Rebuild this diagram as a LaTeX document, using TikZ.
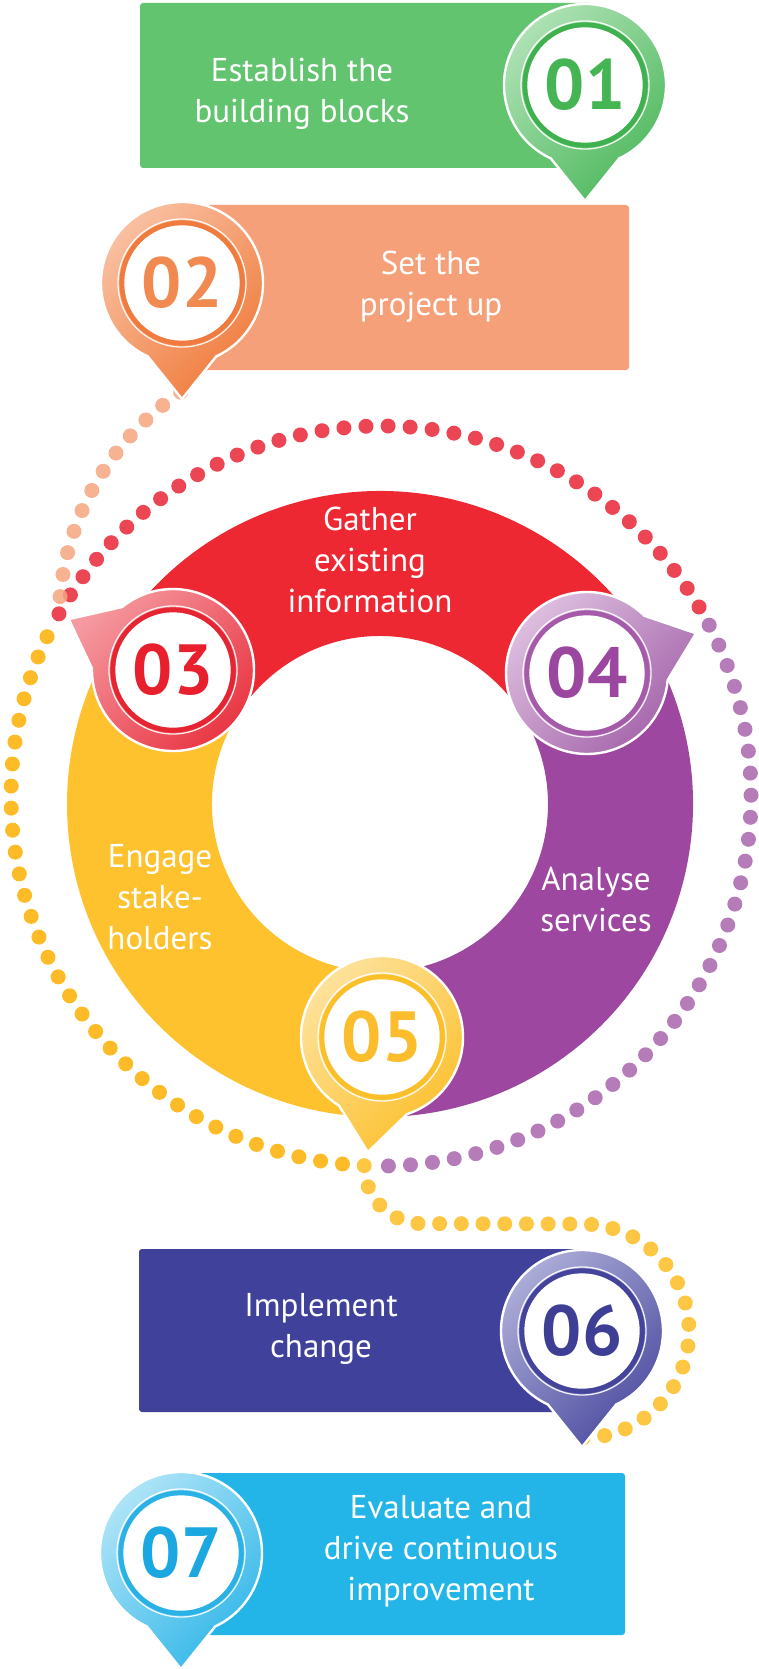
\documentclass[tikz,border=0pt]{standalone}
\usepackage{fontspec}
\setmainfont{PT Sans}
\usetikzlibrary{calc}

% card colours
\definecolor{cardgreen}{HTML}{62C46F}
\definecolor{cardorange}{HTML}{F5A078}
\definecolor{cardindigo}{HTML}{40419A}
\definecolor{cardblue}{HTML}{23B5E7}
% ring colours
\definecolor{ringred}{HTML}{EE2833}
\definecolor{ringyellow}{HTML}{FDC22E}
\definecolor{ringpurple}{HTML}{9D47A0}
% dotted trail colours
\definecolor{dotorange}{HTML}{F6A47E}
\definecolor{dotred}{HTML}{EC4654}
\definecolor{dotpurple}{HTML}{B67CBA}
\definecolor{dotyellowdeep}{HTML}{FCBB27}
\definecolor{dotyellow}{HTML}{FDC744}
% marker colours: light, body, ring, number
\definecolor{gLight}{HTML}{B2E3B8}\definecolor{gBody}{HTML}{4DB85C}\definecolor{gRing}{HTML}{3FB24F}\definecolor{gNum}{HTML}{45B553}
\definecolor{oLight}{HTML}{F9C3A6}\definecolor{oBody}{HTML}{F07A3A}\definecolor{oRing}{HTML}{EF7C3E}\definecolor{oNum}{HTML}{F08A50}
\definecolor{rLight}{HTML}{F59AA1}\definecolor{rBody}{HTML}{E8323F}\definecolor{rRing}{HTML}{E52531}\definecolor{rNum}{HTML}{E8202D}
\definecolor{pLight}{HTML}{DDBEDF}\definecolor{pBody}{HTML}{A261A8}\definecolor{pRing}{HTML}{A55BA9}\definecolor{pNum}{HTML}{9B479F}
\definecolor{yLight}{HTML}{FEE3A0}\definecolor{yBody}{HTML}{FBBF2A}\definecolor{yRing}{HTML}{FBBF2A}\definecolor{yNum}{HTML}{FBBD2B}
\definecolor{iLight}{HTML}{B0B0DA}\definecolor{iBody}{HTML}{4B4BA0}\definecolor{iRing}{HTML}{44449C}\definecolor{iNum}{HTML}{3E3E94}
\definecolor{bLight}{HTML}{B4E6F8}\definecolor{bBody}{HTML}{30B6E8}\definecolor{bRing}{HTML}{2AB2E7}\definecolor{bNum}{HTML}{1BA8E0}

% glossy white face of a marker
\pgfdeclareradialshading{markerface}{\pgfpoint{0bp}{0bp}}{%
  color(0bp)=(white); color(30bp)=(white); color(43bp)=(black!9);
  color(48bp)=(black!5); color(50bp)=(white)}

% #1 name, #2 centre, #3 pointing angle, #4 light, #5 body, #6 ring, #7 number colour, #8 number
\newcommand\pinmark[8]{%
  \coordinate (#1) at #2;
  \coordinate (#1-tip) at ($(#1)+(#3:116)$);
  \path[top color=#4, bottom color=#5, shading angle=45,
        draw=white, line width=2.4pt, line join=miter]
    ($(#1)+(#3+25:81)$) arc[start angle=#3+25, end angle=#3+335, radius=81]
    -- (#1-tip) -- cycle;
  \draw[white, line width=1.3pt, opacity=0.9] (#1) circle[radius=64];
  \fill[#6] (#1) circle[radius=62.6];
  \shade[shading=markerface] (#1) circle[radius=57];
  \draw[white, line width=1.4pt] (#1) circle[radius=57];
  \node[numtext, text=#7] (#1-num) at (#1) {#8};
}

\begin{document}
\begin{tikzpicture}[x=1pt, y=-1pt,
  lbl/.style={text=white, align=center, inner sep=0pt,
              font=\fontsize{33}{41}\selectfont},
  numtext/.style={inner sep=0pt, font=\fontsize{71}{71}\selectfont\bfseries},
  dotline/.style={line width=15pt, line cap=round, dash pattern=on 0pt off 22.1pt},
  card/.style={rounded corners=3pt}]

\useasboundingbox (0,0) rectangle (759,1669);

% ---------- step cards ----------
\fill[card, cardgreen]  (140,3)    rectangle (592,168);
\fill[card, cardorange] (195,205)  rectangle (629,370);
\fill[card, cardindigo] (139,1249) rectangle (590,1412);
\fill[card, cardblue]   (195,1473) rectangle (625,1635);

% ---------- cycle ring ----------
\coordinate (ring) at (380,804);
\fill[ringred] ($(ring)+(212:313)$) arc[start angle=212, end angle=328, radius=313]
  -- ($(ring)+(328:168)$) arc[start angle=328, end angle=212, radius=168] -- cycle;
\fill[ringyellow] ($(ring)+(90:313)$) arc[start angle=90, end angle=212, radius=313]
  -- ($(ring)+(212:168)$) arc[start angle=212, end angle=90, radius=168] -- cycle;
\fill[ringpurple] ($(ring)+(-32:313)$) arc[start angle=-32, end angle=90, radius=313]
  -- ($(ring)+(90:168)$) arc[start angle=90, end angle=-32, radius=168] -- cycle;

% ---------- dotted trails ----------
\coordinate (dc) at (381,796);
\coordinate (orc) at (335,621);
\draw[dotline, dotred] ($(dc)+(209.5:370)$) arc[start angle=209.5, end angle=329.5, radius=370];
\draw[dotline, dotpurple] ($(dc)+(332.5:370)$) arc[start angle=332.5, end angle=449, radius=370];
\draw[dotline, dotyellowdeep] ($(dc)+(205.5:370)$) arc[start angle=205.5, end angle=92.6, radius=370];
\draw[dotline, dotorange, opacity=0.85, dash pattern=on 0pt off 22.3pt]
  ($(orc)+(236:276)$) arc[start angle=236, end angle=185, radius=276];
\coordinate (j5) at ($(dc)+(92.6:370)$);
\coordinate (loop6) at (582,1224);
\draw[dotline, dotyellow, dash pattern=on 0pt off 21.7pt]
  (j5) arc[start angle=180, end angle=90, radius=58] -- (loop6)
  arc[start angle=-90, end angle=90, radius=107];

% ---------- labels ----------
\node[lbl] (t1) at (302,94)   {Establish the\\building blocks};
\node[lbl] (t2) at (431,287)  {Set the\\project up};
\node[lbl] (t3) at (370,560)  {Gather\\existing\\information};
\node[lbl] (t4) at (160,897)  {Engage\\stake-\\holders};
\node[lbl] (t5) at (596,899)  {Analyse\\services};
\node[lbl] (t6) at (321,1329) {Implement\\change};
\node[lbl] (t7) at (441,1551) {Evaluate and\\drive continuous\\improvement};

% ---------- numbered markers ----------
\pinmark{m1}{(585,85)}{90}{gLight}{gBody}{gRing}{gNum}{01}
\pinmark{m2}{(182,283)}{90}{oLight}{oBody}{oRing}{oNum}{02}
\pinmark{m3}{(173,670)}{206}{rLight}{rBody}{rRing}{rNum}{03}
\pinmark{m4}{(587,673)}{-20}{pLight}{pBody}{pRing}{pNum}{04}
\pinmark{m5}{(382,1037)}{97}{yLight}{yBody}{yRing}{yNum}{05}
\pinmark{m6}{(582,1331)}{90}{iLight}{iBody}{iRing}{iNum}{06}
\pinmark{m7}{(181,1553)}{90}{bLight}{bBody}{bRing}{bNum}{07}

\end{tikzpicture}
\end{document}
